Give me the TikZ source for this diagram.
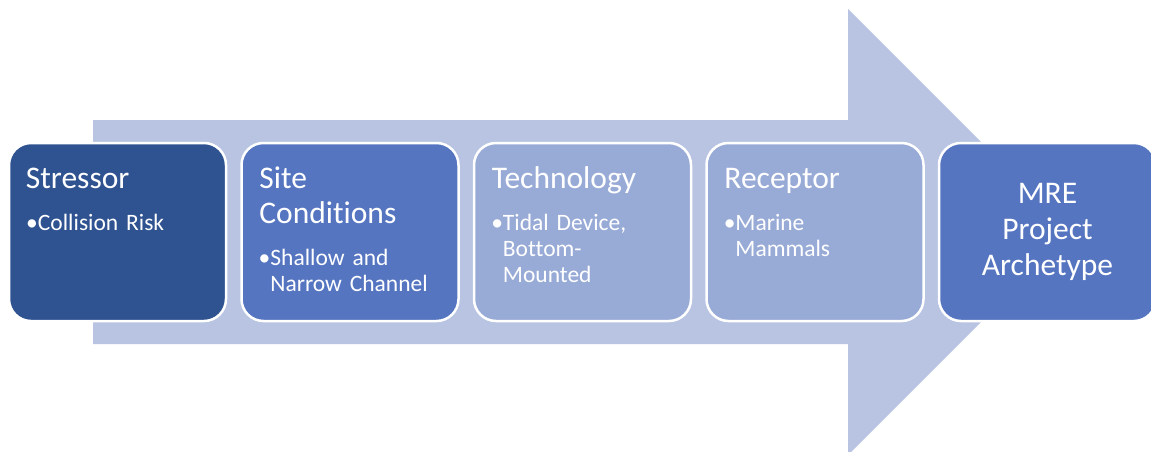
\documentclass[tikz,border=0pt]{standalone}
\usepackage{fontspec}
\setmainfont{Carlito}[Ligatures=NoCommon]
\usetikzlibrary{positioning}
\definecolor{arrowblue}{HTML}{B8C4E2}
\definecolor{darkblue}{HTML}{2F5291}
\definecolor{midblue}{HTML}{5575C1}
\definecolor{paleblue}{HTML}{98AAD6}
\tikzset{
  stage/.style={draw=white, line width=2.5pt, rounded corners=22pt,
    minimum width=217pt, minimum height=178pt, inner sep=0pt},
  heading/.style={text=white, anchor=base west, text width=200pt, align=left,
    inner sep=0pt, font=\fontsize{31.5}{35}\selectfont},
  item/.style={text=white, anchor=base west, text width=190pt, align=left,
    inner sep=0pt, font=\fontsize{23.5}{26}\selectfont}
}
\begin{document}
\begin{tikzpicture}[x=1pt, y=-1pt]
  \useasboundingbox[fill=white] (0,0) rectangle (1151,451);
  % big arrow behind the stages
  \fill[arrowblue] (93,120) -- (848,120) -- (848,9) -- (1071,232)
    -- (848,455) -- (848,344) -- (93,344) -- cycle;
  % stages
  \node[stage, fill=darkblue] (stressor) at (117.5,232) {};
  \node[stage, fill=midblue, right=13pt of stressor] (site) {};
  \node[stage, fill=paleblue, right=13pt of site] (technology) {};
  \node[stage, fill=paleblue, right=13pt of technology] (receptor) {};
  \node[stage, fill=midblue, right=13pt of receptor, text=white, align=center,
    font=\fontsize{31.5}{36}\selectfont] (archetype) {MRE\\Project\\Archetype};
  % texts
  \node[heading] (stressorT) at ([shift={(18,47)}]stressor.north west) {Stressor};
  \node[item] (stressorI) at ([shift={(30,89)}]stressor.north west) {\llap{•}Collision Risk};
  \node[heading] (siteT) at ([shift={(19,47)}]site.north west) {Site\\Conditions};
  \node[item] (siteI) at ([shift={(30,124)}]site.north west) {\llap{•}Shallow and\\Narrow Channel};
  \node[heading] (technologyT) at ([shift={(19,47)}]technology.north west) {Technology};
  \node[item] (technologyI) at ([shift={(30,89)}]technology.north west) {\llap{•}Tidal Device,\\Bottom-\\Mounted};
  \node[heading] (receptorT) at ([shift={(19,47)}]receptor.north west) {Receptor};
  \node[item] (receptorI) at ([shift={(30,89)}]receptor.north west) {\llap{•}Marine\\Mammals};
\end{tikzpicture}
\end{document}
